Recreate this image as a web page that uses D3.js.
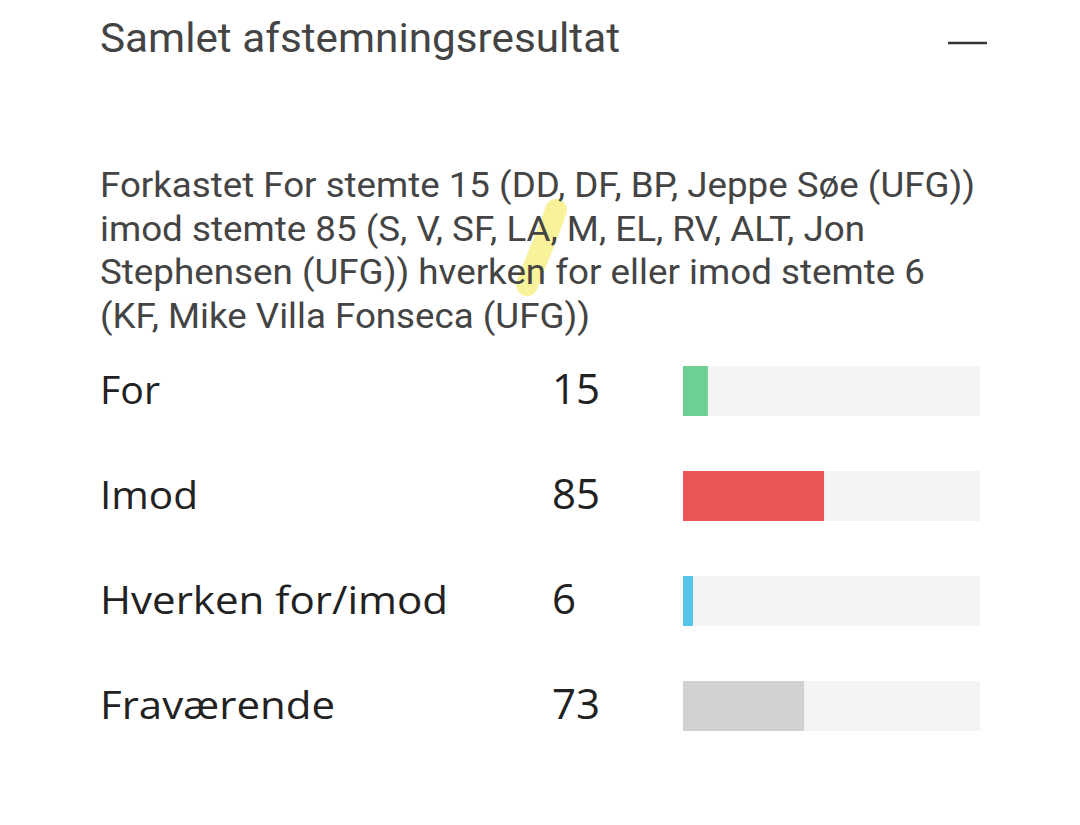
<!DOCTYPE html>
<html><head><meta charset="utf-8">
<script src="https://cdn.jsdelivr.net/npm/d3@7"></script>
<style>body{margin:0;background:#fff}</style></head>
<body><svg id="c" width="1080" height="825"></svg>
<script>
const categories = ["For","Imod","Hverken for/imod","Fraværende"];
const values = [15,85,6,73];
const colors = ["#6ccf94","#ea5656","#55c6ea","#d2d2d2"];
const title = "Samlet afstemningsresultat";
const descLines = ["Forkastet For stemte 15 (DD, DF, BP, Jeppe Søe (UFG))",
 "imod stemte 85 (S, V, SF, LA, M, EL, RV, ALT, Jon",
 "Stephensen (UFG)) hverken for eller imod stemte 6",
 "(KF, Mike Villa Fonseca (UFG))"];
const total = d3.sum(values);
const svg = d3.select("#c");
svg.append("text").attr("x",100).attr("y",52).attr("font-family","Roboto, sans-serif")
  .attr("font-size",40).attr("fill","#444").attr("textLength",520).attr("lengthAdjust","spacingAndGlyphs").text(title);
svg.append("line").attr("x1",948).attr("x2",987).attr("y1",43).attr("y2",43).attr("stroke","#333").attr("stroke-width",2.5);
svg.append("path").attr("d","M556,210 C548,235 535,262 527,285").attr("stroke","#f7f08a").attr("stroke-width",22)
  .attr("stroke-linecap","round").attr("fill","none").attr("opacity",0.85);
const descW = [875,765,825,490];
svg.append("g").selectAll("text").data(descLines).join("text")
  .attr("x",100).attr("y",(d,i)=>197+i*43.5).attr("font-family","Roboto, sans-serif")
  .attr("font-size",35).attr("fill","#444").attr("textLength",(d,i)=>descW[i]).attr("lengthAdjust","spacingAndGlyphs").text(d=>d);
const x = d3.scaleLinear().domain([0,total]).range([683,980]);
const bh = 50, step = 105;
const y = d3.scaleBand().domain(categories).range([366,366+step*(categories.length-1)+bh]).paddingInner((step-bh)/step).paddingOuter(0);
const rows = svg.append("g").selectAll("g").data(categories).join("g");
rows.append("rect").attr("x",x(0)).attr("y",d=>y(d)).attr("width",x(total)-x(0)).attr("height",y.bandwidth()).attr("fill","#f4f4f4");
rows.append("rect").attr("x",x(0)).attr("y",d=>y(d)).attr("width",(d,i)=>x(values[i])-x(0)).attr("height",y.bandwidth()).attr("fill",(d,i)=>colors[i]);
rows.append("text").attr("x",100).attr("y",d=>y(d)+bh/2+13).attr("font-family","'Open Sans', Roboto, sans-serif")
  .attr("font-size",39).attr("fill","#222").attr("textLength",(d,i)=>[60,98,348,235][i]).attr("lengthAdjust","spacingAndGlyphs").text(d=>d);
rows.append("text").attr("x",552).attr("y",d=>y(d)+bh/2+13).attr("font-family","'Open Sans', Roboto, sans-serif")
  .attr("font-size",42).attr("fill","#222").text((d,i)=>values[i]);
</script></body></html>
